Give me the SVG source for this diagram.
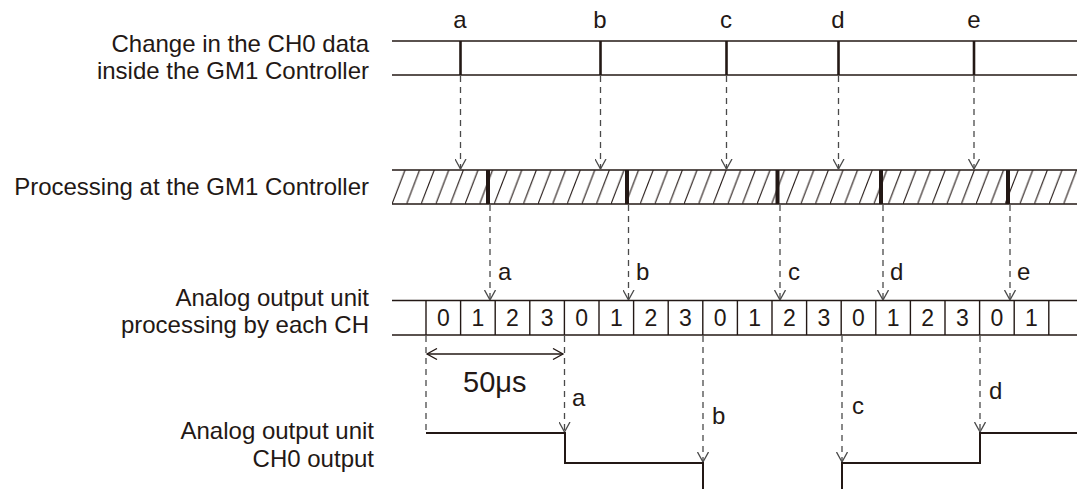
<svg xmlns="http://www.w3.org/2000/svg" width="1077" height="489" viewBox="0 0 1077 489">
<style>
text{font-family:"Liberation Sans",Arial,sans-serif;fill:#231815}
.lbl{font-size:24px;text-anchor:end}
.let{font-size:24px}
.mid{text-anchor:middle}
.dig{font-size:23px;text-anchor:middle}
.ln{stroke:#231815;stroke-width:1.4;fill:none}
.sig{stroke:#231815;stroke-width:2;fill:none}
.mk{stroke:#231815;stroke-width:2.6}
.bar{fill:#231815}
.dash{stroke:#4a4a4a;stroke-width:1.3;stroke-dasharray:6 5;fill:none}
</style>
<defs>
<pattern id="hatch" patternUnits="userSpaceOnUse" x="392" y="170" width="14.6" height="34">
<line x1="0" y1="34" x2="13" y2="0" stroke="#231815" stroke-width="1.1"/>
</pattern>
<marker id="ah" viewBox="0 0 10 12" refX="10" refY="6" markerWidth="10" markerHeight="12" markerUnits="userSpaceOnUse" orient="auto">
<path d="M0,0.5 L10,6 L0,11.5" fill="none" stroke="#4a4a4a" stroke-width="1.3"/>
</marker>
<marker id="dh" viewBox="0 0 10 12" refX="10" refY="6" markerWidth="14" markerHeight="12" markerUnits="userSpaceOnUse" orient="auto-start-reverse">
<path d="M0,0.5 L10,6 L0,11.5" fill="none" stroke="#231815" stroke-width="1.3"/>
</marker>
</defs>

<g id="row-change">
<text class="lbl" x="369" y="52">Change in the CH0 data</text>
<text class="lbl" x="369" y="79">inside the GM1 Controller</text>
<line class="ln" x1="392" y1="41" x2="1077" y2="41"/>
<line class="ln" x1="392" y1="75" x2="1077" y2="75"/>
<line class="mk" x1="460.5" y1="41" x2="460.5" y2="75"/>
<line class="mk" x1="600.5" y1="41" x2="600.5" y2="75"/>
<line class="mk" x1="726.5" y1="41" x2="726.5" y2="75"/>
<line class="mk" x1="838.5" y1="41" x2="838.5" y2="75"/>
<line class="mk" x1="974" y1="41" x2="974" y2="75"/>
<text class="let mid" x="460" y="28">a</text>
<text class="let mid" x="600" y="28">b</text>
<text class="let mid" x="726" y="28">c</text>
<text class="let mid" x="838" y="28">d</text>
<text class="let mid" x="974" y="28">e</text>
</g>

<g id="row-processing">
<text class="lbl" x="369" y="195">Processing at the GM1 Controller</text>
<rect x="392" y="170" width="685" height="34" fill="url(#hatch)"/>
<line class="ln" x1="392" y1="170" x2="1077" y2="170"/>
<line class="ln" x1="392" y1="204" x2="1077" y2="204"/>
<rect class="bar" x="486" y="170" width="4" height="34"/>
<rect class="bar" x="625" y="170" width="4" height="34"/>
<rect class="bar" x="775.5" y="170" width="4" height="34"/>
<rect class="bar" x="879" y="170" width="4" height="34"/>
<rect class="bar" x="1006" y="170" width="4" height="34"/>
</g>

<g id="row-cells">
<text class="lbl" x="369" y="306">Analog output unit</text>
<text class="lbl" x="369" y="333">processing by each CH</text>
<line class="ln" x1="392" y1="300.5" x2="1077" y2="300.5"/>
<line class="ln" x1="392" y1="335" x2="1077" y2="335"/>
<g class="ln">
<line x1="426" y1="300.5" x2="426" y2="335"/>
<line x1="460.6" y1="300.5" x2="460.6" y2="335"/>
<line x1="495.2" y1="300.5" x2="495.2" y2="335"/>
<line x1="529.8" y1="300.5" x2="529.8" y2="335"/>
<line x1="564.4" y1="300.5" x2="564.4" y2="335"/>
<line x1="599" y1="300.5" x2="599" y2="335"/>
<line x1="633.6" y1="300.5" x2="633.6" y2="335"/>
<line x1="668.2" y1="300.5" x2="668.2" y2="335"/>
<line x1="702.8" y1="300.5" x2="702.8" y2="335"/>
<line x1="737.4" y1="300.5" x2="737.4" y2="335"/>
<line x1="772" y1="300.5" x2="772" y2="335"/>
<line x1="806.6" y1="300.5" x2="806.6" y2="335"/>
<line x1="841.2" y1="300.5" x2="841.2" y2="335"/>
<line x1="875.8" y1="300.5" x2="875.8" y2="335"/>
<line x1="910.4" y1="300.5" x2="910.4" y2="335"/>
<line x1="945" y1="300.5" x2="945" y2="335"/>
<line x1="979.6" y1="300.5" x2="979.6" y2="335"/>
<line x1="1014.2" y1="300.5" x2="1014.2" y2="335"/>
<line x1="1048.8" y1="300.5" x2="1048.8" y2="335"/>
</g>
<text class="dig" x="443.3" y="326">0</text>
<text class="dig" x="477.9" y="326">1</text>
<text class="dig" x="512.5" y="326">2</text>
<text class="dig" x="547.1" y="326">3</text>
<text class="dig" x="581.7" y="326">0</text>
<text class="dig" x="616.3" y="326">1</text>
<text class="dig" x="650.9" y="326">2</text>
<text class="dig" x="685.5" y="326">3</text>
<text class="dig" x="720.1" y="326">0</text>
<text class="dig" x="754.7" y="326">1</text>
<text class="dig" x="789.3" y="326">2</text>
<text class="dig" x="823.9" y="326">3</text>
<text class="dig" x="858.5" y="326">0</text>
<text class="dig" x="893.1" y="326">1</text>
<text class="dig" x="927.7" y="326">2</text>
<text class="dig" x="962.3" y="326">3</text>
<text class="dig" x="996.9" y="326">0</text>
<text class="dig" x="1031.5" y="326">1</text>
<text class="let" x="498" y="280">a</text>
<text class="let" x="636" y="280">b</text>
<text class="let" x="788" y="280">c</text>
<text class="let" x="890" y="280">d</text>
<text class="let" x="1017" y="280">e</text>
</g>

<g id="row-output">
<text class="lbl" x="374" y="439">Analog output unit</text>
<text class="lbl" x="374" y="467">CH0 output</text>
<polyline class="sig" points="426,433 565,433 565,463 703,463 703,489"/>
<polyline class="sig" points="842,489 842,463 980,463 980,433 1077,433"/>
<text class="let" x="572" y="406">a</text>
<text class="let" x="712" y="424">b</text>
<text class="let" x="852" y="414">c</text>
<text class="let" x="989" y="399">d</text>
<line x1="427" y1="354" x2="563" y2="354" stroke="#231815" stroke-width="1.3" marker-start="url(#dh)" marker-end="url(#dh)"/>
<text x="463" y="392" style="font-size:29px">50μs</text>
</g>

<g id="connectors">
<line class="dash" x1="460.5" y1="76" x2="460.5" y2="169" marker-end="url(#ah)"/>
<line class="dash" x1="600.5" y1="76" x2="600.5" y2="169" marker-end="url(#ah)"/>
<line class="dash" x1="726.5" y1="76" x2="726.5" y2="169" marker-end="url(#ah)"/>
<line class="dash" x1="838.5" y1="76" x2="838.5" y2="169" marker-end="url(#ah)"/>
<line class="dash" x1="974" y1="76" x2="974" y2="169" marker-end="url(#ah)"/>
<line class="dash" x1="490" y1="205" x2="490" y2="300" marker-end="url(#ah)"/>
<line class="dash" x1="628.5" y1="205" x2="628.5" y2="300" marker-end="url(#ah)"/>
<line class="dash" x1="780" y1="205" x2="780" y2="300" marker-end="url(#ah)"/>
<line class="dash" x1="883" y1="205" x2="883" y2="300" marker-end="url(#ah)"/>
<line class="dash" x1="1010" y1="205" x2="1010" y2="300" marker-end="url(#ah)"/>
<line class="dash" x1="426" y1="336" x2="426" y2="433"/>
<line class="dash" x1="564.5" y1="336" x2="564.5" y2="432" marker-end="url(#ah)"/>
<line class="dash" x1="703" y1="336" x2="703" y2="462" marker-end="url(#ah)"/>
<line class="dash" x1="842" y1="336" x2="842" y2="462" marker-end="url(#ah)"/>
<line class="dash" x1="980" y1="336" x2="980" y2="432" marker-end="url(#ah)"/>
</g>
</svg>
